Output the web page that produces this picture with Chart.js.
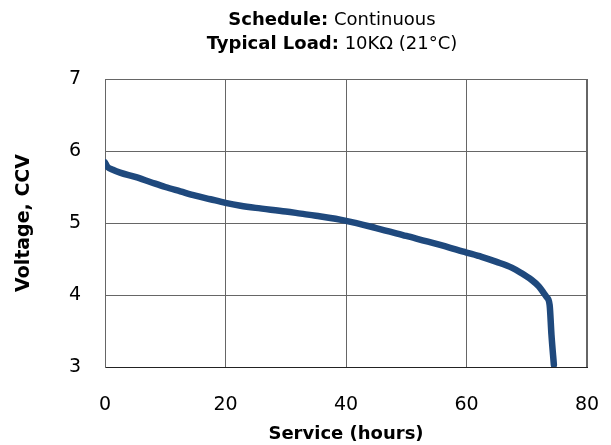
<!DOCTYPE html>
<html>
<head>
<meta charset="utf-8">
<script src="https://cdn.jsdelivr.net/npm/chart.js@4"></script>
<style>
  html, body { margin: 0; padding: 0; background: #fff; }
  #wrap { position: relative; width: 611px; height: 445px; }
  #title {
    position: absolute; left: 0; top: 7px; width: 664px; text-align: center;
    font-family: "DejaVu Sans", sans-serif; font-size: 18px; line-height: 24px; color: #000;
  }
  #title b { font-weight: bold; }
</style>
</head>
<body>
<div id="wrap">
  <canvas id="dischargeChart" width="611" height="445"></canvas>
  <div id="title">
    <div><b>Schedule:</b> Continuous</div>
    <div><b>Typical Load:</b> 10KΩ (21°C)</div>
  </div>
</div>
<script>
// Service hours vs closed circuit voltage
const hours = [0, 0.4, 1.3, 2.5, 5, 7.5, 10, 12.5, 15, 17.5, 20, 22.5, 25, 30, 32.5, 35, 40, 45, 50, 55, 60, 62.5, 65, 67.5, 69, 70.8, 72, 72.8, 73.3, 73.8, 74.1, 74.5];
const voltage = [5.84, 5.78, 5.74, 5.7, 5.64, 5.57, 5.5, 5.44, 5.38, 5.33, 5.28, 5.24, 5.21, 5.16, 5.13, 5.1, 5.03, 4.93, 4.82, 4.71, 4.59, 4.53, 4.46, 4.38, 4.31, 4.21, 4.12, 4.03, 3.97, 3.86, 3.45, 3.03];

const xTicks = [0, 20, 40, 60, 80];
const yTicks = [3, 4, 5, 6, 7];

const points = hours.map((h, i) => ({ x: h, y: voltage[i] }));

const gridColor = '#666666';
const tickFont = { family: 'DejaVu Sans', size: 19 };

const ctx = document.getElementById('dischargeChart').getContext('2d');

new Chart(ctx, {
  type: 'scatter',
  data: {
    datasets: [
      {
        label: 'CCV',
        data: points,
        showLine: true,
        borderColor: '#1f497d',
        backgroundColor: '#1f497d',
        borderWidth: 6.5,
        pointRadius: 0,
        cubicInterpolationMode: 'monotone',
        borderCapStyle: 'round',
        borderJoinStyle: 'round'
      }
    ]
  },
  options: {
    responsive: false,
    animation: false,
    layout: {
      padding: { top: 79, right: 24, left: 0, bottom: 0 }
    },
    plugins: {
      legend: { display: false },
      tooltip: { enabled: false }
    },
    scales: {
      x: {
        type: 'linear',
        min: 0,
        max: 80,
        afterBuildTicks: (axis) => { axis.ticks = xTicks.map((v) => ({ value: v })); },
        afterFit: (axis) => {
          axis.height = 78;
          axis.paddingLeft = 0;
          axis.paddingRight = 0;
        },
        grid: { color: gridColor, lineWidth: 1, drawTicks: false },
        border: { color: '#222222', width: 1 },
        ticks: { color: '#000', font: tickFont, padding: 27, maxRotation: 0 },
        title: {
          display: true,
          text: 'Service (hours)',
          color: '#000',
          font: { family: 'DejaVu Sans', size: 18, weight: 'bold' },
          padding: { top: 0, bottom: 0 }
        }
      },
      y: {
        min: 3,
        max: 7,
        afterBuildTicks: (axis) => { axis.ticks = yTicks.map((v) => ({ value: v })); },
        afterFit: (axis) => {
          axis.width = 105;
          axis.paddingTop = 0;
          axis.paddingBottom = 0;
        },
        grid: { color: gridColor, lineWidth: 1, drawTicks: false },
        border: { color: gridColor, width: 1 },
        ticks: { color: '#000', font: tickFont, padding: 24 },
        title: {
          display: true,
          text: 'Voltage, CCV',
          color: '#000',
          font: { family: 'DejaVu Sans', size: 19, weight: 'bold' },
          padding: { top: 13, bottom: 0 }
        }
      }
    }
  },
  plugins: [
    {
      // top and right edges of the plot frame
      id: 'frame',
      afterDraw(chart) {
        const a = chart.chartArea;
        const c = chart.ctx;
        c.save();
        c.strokeStyle = gridColor;
        c.lineWidth = 1;
        c.beginPath();
        c.moveTo(a.left, a.top + 0.5);
        c.lineTo(a.right - 0.5, a.top + 0.5);
        c.lineTo(a.right - 0.5, a.bottom);
        c.stroke();
        c.restore();
      }
    }
  ]
});
</script>
</body>
</html>
